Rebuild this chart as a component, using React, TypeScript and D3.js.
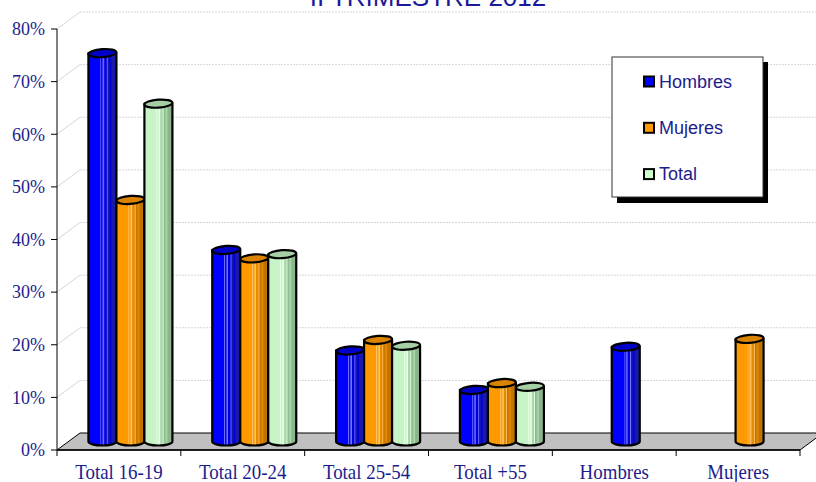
import React from "react";
import * as d3 from "d3";

const categories = ["Total 16-19", "Total 20-24", "Total 25-54", "Total +55", "Hombres", "Mujeres"];
const seriesNames = ["Hombres", "Mujeres", "Total"];
const hombres: (number | null)[] = [73.8, 36.4, 17.3, 9.8, 18.0, null];
const mujeres: (number | null)[] = [45.9, 34.8, 19.3, 11.1, null, 19.5];
const total: (number | null)[] = [64.2, 35.6, 18.2, 10.4, null, null];
const yTicks = [0, 10, 20, 30, 40, 50, 60, 70, 80];
const title = "II TRIMESTRE 2012";

const seriesValues = [hombres, mujeres, total];
const palette = [
  { base: "#0000ff", light: "#7a7aff", mid: "#0000d8", dark: "#1a1aa8", top: "#0000c8", legend: "#0000ff" },
  { base: "#ff9900", light: "#ffc870", mid: "#e68a00", dark: "#c07400", top: "#d98300", legend: "#ff9900" },
  { base: "#c6f4c6", light: "#eaffea", mid: "#a9d9a9", dark: "#8db58d", top: "#a6cfa6", legend: "#ccffcc" },
];

const W = 816;
const H = 482;
const left = 57;
const right = 800;
const y0 = 450;
const yTop = 29;
const DX = 23;
const DY = -17;
const textColor = "#1c1c8c";

export default function App() {
  const x = d3.scaleBand<string>().domain(categories).range([left, right]).paddingInner(0).paddingOuter(0);
  const y = d3.scaleLinear().domain([0, 80]).range([y0, yTop]);
  const bw = 28;
  const ry = 4;

  const bars: { cat: number; s: number; x0: number; v: number }[] = [];
  categories.forEach((c, ci) => {
    const present = seriesValues
      .map((arr, si) => ({ si, v: arr[ci] }))
      .filter((d) => d.v !== null && d.v !== undefined) as { si: number; v: number }[];
    const n = present.length;
    const cx = (x(c) as number) + x.bandwidth() / 2 + DX / 2;
    present.forEach((p, i) => {
      bars.push({ cat: ci, s: p.si, x0: cx - (n * bw) / 2 + i * bw, v: p.v });
    });
  });

  const baseY = y(0) + DY / 2;

  return (
    <svg width={W} height={H} style={{ position: "absolute", left: 0, top: 0, background: "#fff" }}>
      <defs>
        {palette.map((p, i) => (
          <linearGradient key={i} id={`cyl${i}`} x1="0" x2="1" y1="0" y2="0">
            <stop offset="0" stopColor={p.base} />
            <stop offset="0.42" stopColor={p.base} />
            <stop offset="0.44" stopColor={p.light} />
            <stop offset="0.47" stopColor={p.base} />
            <stop offset="0.55" stopColor={p.light} />
            <stop offset="0.58" stopColor={p.mid} />
            <stop offset="0.64" stopColor={p.mid} />
            <stop offset="0.67" stopColor={p.light} />
            <stop offset="0.70" stopColor={p.dark} />
            <stop offset="0.80" stopColor={p.mid} />
            <stop offset="0.84" stopColor={p.dark} />
            <stop offset="1" stopColor={p.dark} />
          </linearGradient>
        ))}
      </defs>

      {/* title */}
      <text x={428} y={6} textAnchor="middle" fontFamily="Liberation Sans, Arial, sans-serif" fontSize={26} fill="#1a1a9a">
        {title}
      </text>

      {/* gridlines: side wall diagonals + back wall horizontals */}
      {yTicks.map((t) => (
        <g key={t}>
          {t > 0 && (
            <>
              <line x1={left} y1={y(t)} x2={left + DX} y2={y(t) + DY} stroke="#d6d6d6" strokeWidth={1} />
              <line x1={left + DX} y1={y(t) + DY} x2={W} y2={y(t) + DY} stroke="#d6d6d6" strokeWidth={1} strokeDasharray="2,1" />
            </>
          )}
        </g>
      ))}

      {/* floor */}
      <polygon
        points={`${left},${y0} ${right},${y0} ${right + DX},${y0 + DY} ${left + DX},${y0 + DY}`}
        fill="#c0c0c0"
        stroke="#000"
        strokeWidth={1}
      />

      {/* axes */}
      <line x1={left} y1={yTop} x2={left} y2={y0} stroke="#000" strokeWidth={1} />
      {yTicks.map((t) => (
        <g key={`yt${t}`}>
          <line x1={left - 6} y1={y(t)} x2={left} y2={y(t)} stroke="#000" />
          <text
            x={45}
            y={y(t)}
            dy="0.35em"
            textAnchor="end"
            fontFamily="Liberation Serif, Times New Roman, serif"
            fontSize={18}
            fill={textColor}
          >
            {`${t}%`}
          </text>
        </g>
      ))}
      <line x1={left} y1={y0} x2={right} y2={y0} stroke="#000" strokeWidth={1.5} />
      {categories.map((c, i) => (
        <line key={`xt${i}`} x1={x(c) as number} y1={y0} x2={x(c) as number} y2={y0 + 6} stroke="#000" />
      ))}
      <line x1={right} y1={y0} x2={right} y2={y0 + 6} stroke="#000" />
      {categories.map((c) => {
        const cx = (x(c) as number) + x.bandwidth() / 2;
        return (
          <text
            key={`xl${c}`}
            transform={`translate(${cx},479) scale(0.9,1)`}
            textAnchor="middle"
            fontFamily="Liberation Serif, Times New Roman, serif"
            fontSize={21}
            fill={textColor}
          >
            {c}
          </text>
        );
      })}

      {/* bars (cylinders) */}
      {bars.map((b, i) => {
        const rx = bw / 2;
        const top = y(b.v) + DY / 2;
        const d = `M${b.x0},${top} L${b.x0},${baseY} A${rx},${ry} 0 0 0 ${b.x0 + bw},${baseY} L${b.x0 + bw},${top} Z`;
        return (
          <g key={i}>
            <path d={d} fill={`url(#cyl${b.s})`} stroke="#000" strokeWidth={2.2} strokeLinejoin="round" />
            <ellipse
              cx={b.x0 + rx}
              cy={top}
              rx={rx}
              ry={ry}
              transform={`rotate(-4 ${b.x0 + rx} ${top})`}
              fill={palette[b.s].top}
              stroke="#000"
              strokeWidth={2.2}
            />
          </g>
        );
      })}

      {/* legend */}
      <rect x={617} y={62} width={151} height={141} fill="#000" />
      <rect x={612} y={57} width={151} height={140} fill="#fff" stroke="#333" strokeWidth={1} />
      {seriesNames.map((s, i) => {
        const cy = 81.5 + i * 46.3;
        return (
          <g key={s}>
            <rect x={644} y={cy - 5} width={10} height={10} fill={palette[i].legend} stroke="#000" strokeWidth={2} />
            <text
              x={659}
              y={cy + 6}
              fontFamily="Liberation Sans, Arial, sans-serif"
              fontSize={18}
              fill={textColor}
            >
              {s}
            </text>
          </g>
        );
      })}
    </svg>
  );
}
